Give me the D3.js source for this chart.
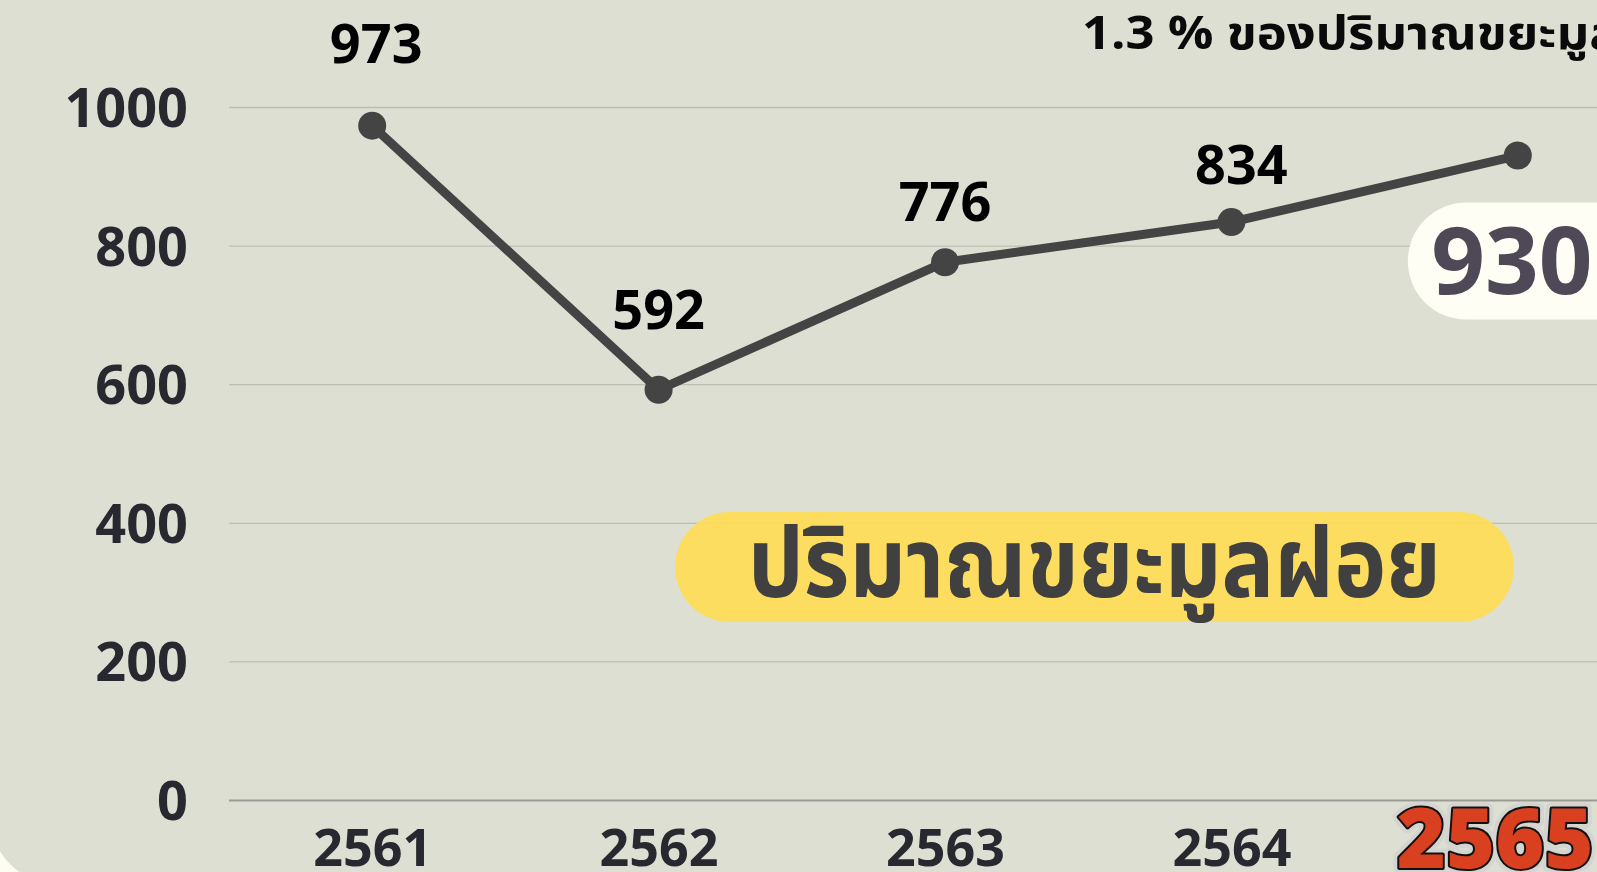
<!DOCTYPE html>
<html>
<head>
<meta charset="utf-8">
<script src="https://cdn.jsdelivr.net/npm/d3@7/dist/d3.min.js"></script>
<style>
  html, body { margin: 0; padding: 0; background: #fdfdf2; overflow: hidden; }
  svg { display: block; }
  .num { font-family: "Noto Sans", "Open Sans", sans-serif; font-weight: 700; }
  .thai { font-family: "Noto Sans Thai", "Noto Sans Thai UI", "Noto Sans", "DejaVu Sans", sans-serif; font-weight: 700; }
</style>
</head>
<body>
<svg id="chart" width="1597" height="872"></svg>
<script>
// Annual solid-waste quantity by Buddhist-era year
const years = ["2561", "2562", "2563", "2564", "2565"];
const wasteQty = [973, 592, 776, 834, 930];
const yTicks = [0, 200, 400, 600, 800, 1000];
const chartTitle = "ปริมาณขยะมูลฝอย";
const shareNote = "1.3 % ของปริมาณขยะมูลฝอยทั้งประเทศ";

// label lift above each point (px) and horizontal nudge
const labelLift = [63, 61, 41, 38];
const labelNudge = [4, 0, 0, 10];

const W = 1597, H = 872;
const svg = d3.select("#chart");

// panel with rounded corner
svg.append("rect")
  .attr("x", -10).attr("y", -100)
  .attr("width", W + 100).attr("height", 985)
  .attr("rx", 70).attr("ry", 70)
  .attr("fill", "#dedfd3");

const x = d3.scalePoint().domain(years).range([229, 1661]).padding(0.5);
const y = d3.scaleLinear().domain([0, 1000]).range([800, 107]);

// y axis with gridlines
const yAxis = svg.append("g")
  .attr("transform", "translate(229,0)")
  .call(d3.axisLeft(y).tickValues(yTicks).tickFormat(d3.format("d"))
    .tickSizeInner(-(W - 229)).tickSizeOuter(0).tickPadding(41));
yAxis.select(".domain").remove();
yAxis.selectAll(".tick line")
  .attr("stroke", d => d === 0 ? "#9a9a94" : "#bdbdb1")
  .attr("stroke-width", d => d === 0 ? 2 : 1.3);
yAxis.selectAll(".tick text")
  .attr("class", "num")
  .attr("font-size", 54)
  .attr("fill", "#272830")
  .attr("dy", "0.36em");

// x axis labels
const xAxis = svg.append("g")
  .attr("transform", "translate(0,800)")
  .call(d3.axisBottom(x).tickSize(0).tickPadding(29));
xAxis.select(".domain").remove();
xAxis.selectAll(".tick text")
  .attr("class", "num")
  .attr("font-size", 52)
  .attr("fill", "#272830");

// highlighted final year
const lastTick = xAxis.selectAll(".tick").filter(d => d === years[years.length - 1]);
lastTick.select("text").remove();
const lastG = lastTick.append("g").attr("transform", "translate(-23,68)");
lastG.append("text")
  .attr("text-anchor", "middle")
  .attr("font-family", "'Open Sans', 'Noto Sans', sans-serif")
  .attr("font-weight", 800)
  .attr("font-size", 84)
  .attr("fill", "none")
  .attr("stroke", "#d4d4d0")
  .attr("stroke-width", 12)
  .attr("stroke-linejoin", "round")
  .text(years[years.length - 1]);
lastG.append("text")
  .attr("text-anchor", "middle")
  .attr("font-family", "'Open Sans', 'Noto Sans', sans-serif")
  .attr("font-weight", 800)
  .attr("font-size", 84)
  .attr("fill", "#d9401f")
  .attr("stroke", "#111")
  .attr("stroke-width", 4)
  .attr("stroke-linejoin", "round")
  .attr("paint-order", "stroke")
  .text(years[years.length - 1]);

// title pill
const pillG = svg.append("g");
pillG.append("rect")
  .attr("x", 675).attr("y", 512)
  .attr("width", 839).attr("height", 110)
  .attr("rx", 55).attr("ry", 55)
  .attr("fill", "#ffdd57")
  .attr("opacity", 0.93);
pillG.append("text")
  .attr("class", "thai")
  .attr("x", 1094.5).attr("y", 597)
  .attr("text-anchor", "middle")
  .attr("font-size", 98)
  .attr("fill", "#404040")
  .attr("textLength", 693)
  .attr("lengthAdjust", "spacingAndGlyphs")
  .text(chartTitle);

// share note, top right
svg.append("text")
  .attr("class", "thai")
  .attr("transform", "translate(1082,49) scale(1.08,1)")
  .attr("font-size", 47)
  .attr("fill", "#0a0a0a")
  .text(shareNote);

// line and points
const pts = years.map((yr, i) => ({ yr, v: wasteQty[i] }));
svg.append("path")
  .datum(pts)
  .attr("fill", "none")
  .attr("stroke", "#444444")
  .attr("stroke-width", 9)
  .attr("stroke-linejoin", "round")
  .attr("d", d3.line().x(d => x(d.yr)).y(d => y(d.v)));
svg.selectAll("circle.pt")
  .data(pts)
  .join("circle")
  .attr("class", "pt")
  .attr("cx", d => x(d.yr))
  .attr("cy", d => y(d.v))
  .attr("r", 14)
  .attr("fill", "#444444");

// value labels for all but the last year
svg.selectAll("text.val")
  .data(pts.slice(0, -1))
  .join("text")
  .attr("class", "val num")
  .attr("x", (d, i) => x(d.yr) + labelNudge[i])
  .attr("y", (d, i) => y(d.v) - labelLift[i])
  .attr("text-anchor", "middle")
  .attr("font-size", 54)
  .attr("fill", "#000")
  .text(d => d.v);

// emphasised latest value in a pill
const last = pts[pts.length - 1];
const lx = x(last.yr), ly = y(last.v);
svg.append("rect")
  .attr("x", lx - 110).attr("y", ly + 47)
  .attr("width", 300).attr("height", 117)
  .attr("rx", 58.5).attr("ry", 58.5)
  .attr("fill", "#fefef4");
svg.append("text")
  .attr("class", "num")
  .attr("x", lx - 6).attr("y", ly + 138)
  .attr("text-anchor", "middle")
  .attr("font-size", 94)
  .attr("fill", "#4f4857")
  .text(last.v);
</script>
</body>
</html>
